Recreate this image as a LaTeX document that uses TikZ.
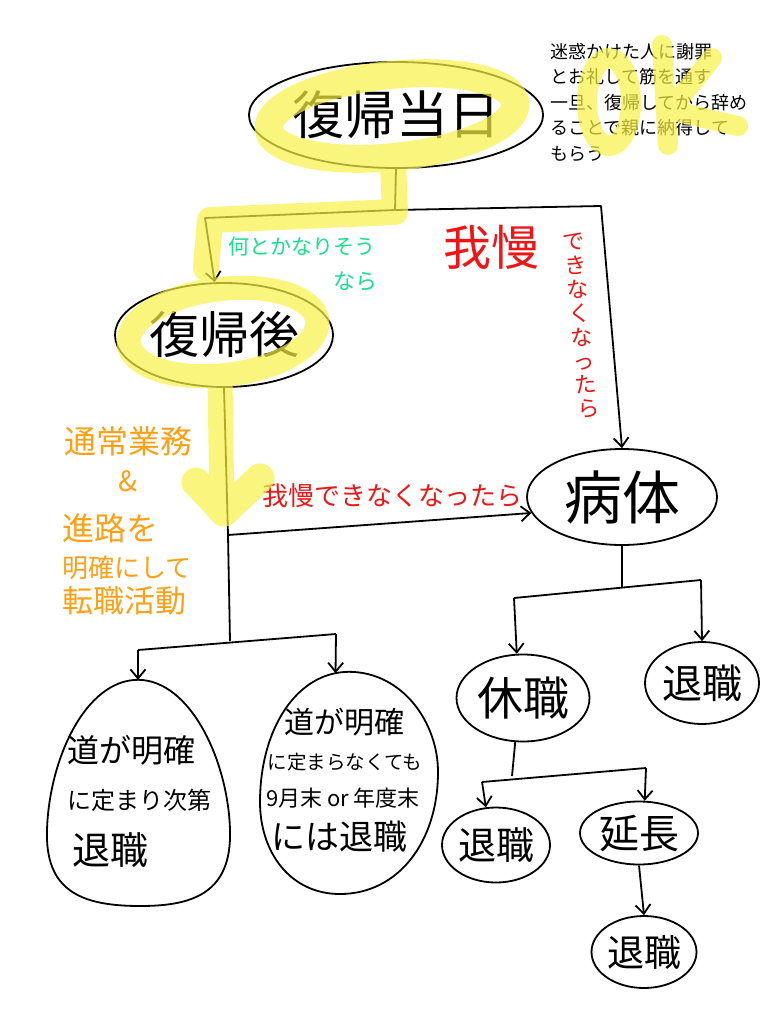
\documentclass[tikz,border=0pt]{standalone}
\usepackage{fontspec}
\setmainfont{Noto Sans CJK JP}
\usetikzlibrary{shapes.geometric,arrows.meta}
\definecolor{hlc}{RGB}{248,242,70}
\definecolor{grn}{RGB}{20,225,140}
\definecolor{rd}{RGB}{240,20,20}
\definecolor{org}{RGB}{255,160,20}
\newcommand\fsz[2]{\fontsize{#1}{#2}\selectfont}
\begin{document}
\begin{tikzpicture}[x=1pt,y=-1pt,
  bub/.style={draw, ellipse, line width=1.8pt, inner sep=0pt},
  seg/.style={line width=1.8pt, line join=round},
  conn/.style={seg, -{Straight Barb[length=9pt,width=15pt]}},
  hl/.style={draw=hlc, line cap=round, line join=round},
  lbl/.style={inner sep=0pt}]
\useasboundingbox[fill=white] (0,0) rectangle (768,1024);

% main nodes
\node[bub, minimum width=282pt, minimum height=106pt, font=\fsz{52}{52}] (d0) at (396,115) {復帰当日};
\node[bub, minimum width=218pt, minimum height=104pt, font=\fsz{50}{50}] (d1) at (224,335) {復帰後};
\node[bub, minimum width=190pt, minimum height=96pt, font=\fsz{58}{58}] (b) at (622,497) {病体};
\node[bub, minimum width=133pt, minimum height=87pt, font=\fsz{46}{46}] (k) at (523,698) {休職};
\node[bub, minimum width=114pt, minimum height=82pt, font=\fsz{40}{40}] (t1) at (702,683) {退職};
\node[bub, minimum width=108pt, minimum height=75pt, font=\fsz{38}{38}] (t2) at (496,845) {退職};
\node[bub, minimum width=118pt, minimum height=63pt, font=\fsz{40}{40}] (ex) at (639,833) {延長};
\node[bub, minimum width=105pt, minimum height=72pt, font=\fsz{37}{37}] (t3) at (644,952) {退職};
\node[ellipse, inner sep=0pt, minimum width=184pt, minimum height=226pt] (e1) at (138,793) {};
\node[ellipse, inner sep=0pt, minimum width=178pt, minimum height=222pt] (e2) at (349,783) {};
% egg outlines
\draw[seg] (e1.north) .. controls (190,680) and (228,760) .. (230,830)
  .. controls (232,895) and (190,906) .. (140,906)
  .. controls (80,906) and (45,890) .. (47,830)
  .. controls (49,760) and (85,680) .. (e1.north);
\draw[seg] (e2.north) .. controls (402,672) and (438,722) .. (438,772)
  .. controls (438,842) and (398,894) .. (340,894)
  .. controls (290,894) and (260,852) .. (260,802)
  .. controls (260,730) and (296,672) .. (e2.north);

% egg texts
\node[lbl, anchor=west, font=\fsz{32}{32}] (e1a) at (67,750) {道が明確};
\node[lbl, anchor=west, font=\fsz{24}{24}] (e1b) at (67,800) {に定まり次第};
\node[lbl, anchor=west, font=\fsz{38}{38}] (e1c) at (72,850) {退職};
\node[lbl, font=\fsz{30}{30}] (e2a) at (344,722) {道が明確};
\node[lbl, font=\fsz{19.5}{20}] (e2b) at (345,762) {に定まらなくても};
\node[lbl, font=\fsz{22}{22}] (e2c) at (343,798) {9月末 or 年度末};
\node[lbl, font=\fsz{34}{34}] (e2d) at (339,837) {には退職};

% junctions
\coordinate (j0) at (395,210);
\coordinate (jL) at (205,218);
\coordinate (jR) at (601,206);
\coordinate (j1) at (228,535);
\coordinate (j2) at (230,641);
\coordinate (l2) at (138,650);
\coordinate (r2) at (336,634);
\coordinate (j3) at (622,588);
\coordinate (l3) at (514,598);
\coordinate (r3) at (701,580);
\coordinate (j4) at (512,776);
\coordinate (l4) at (482,782);
\coordinate (r4) at (646,768);

% connectors
\draw[seg] (d0.south) -- (j0);
\draw[conn] (j0) -- (jL) -- (d1.100);
\draw[conn] (j0) -- (jR) -- (b.north);
\draw[seg] (d1.south) -- (j1) -- (j2);
\draw[conn] (j1) -- (b.190);
\draw[seg] (l2) -- (r2);
\draw[conn] (l2) -- (e1.north);
\draw[conn] (r2) -- (e2.97);
\draw[seg] (b.south) -- (j3);
\draw[seg] (l3) -- (r3);
\draw[conn] (l3) -- (k.98);
\draw[conn] (r3) -- (t1.north);
\draw[seg] (k.260) -- (j4);
\draw[seg] (l4) -- (r4);
\draw[conn] (l4) -- (t2.105);
\draw[conn] (r4) -- (ex.80);
\draw[conn] (ex.south) -- (t3.north);

% coloured labels
\node[lbl, text=grn, font=\fsz{21}{21}] (g1) at (302,247) {何とかなりそう};
\node[lbl, text=grn, font=\fsz{22}{22}] (g2) at (355,281) {なら};
\node[lbl, text=rd, font=\fsz{48}{48}] (r1a) at (491,247) {我慢};
\node[lbl, text=rd, align=center, rotate=5, font=\fsz{22}{24}] (r1b) at (581,326) {で\\き\\な\\く\\な\\っ\\た\\ら};
\node[lbl, text=rd, font=\fsz{26}{26}] (r2a) at (392,496) {我慢できなくなったら};
\node[lbl, text=org, font=\fsz{32}{32}] (o1) at (128,441) {通常業務};
\node[lbl, text=org, font=\fsz{28}{28}] (o2) at (128,481) {\&};
\node[lbl, text=org, anchor=west, font=\fsz{32}{32}] (o3) at (62,528) {進路を};
\node[lbl, text=org, anchor=west, font=\fsz{26}{26}] (o4) at (62,568) {明確にして};
\node[lbl, text=org, anchor=west, font=\fsz{31}{31}] (o5) at (62,601) {転職活動};

% note
\node[lbl, anchor=north west, align=left, font=\fsz{18}{25.5}] (note) at (550,43) {迷惑かけた人に謝罪\\とお礼して筋を通す\\一旦、復帰してから辞め\\ることで親に納得して\\もらう};

% highlighter
\begin{scope}[transparency group, opacity=0.7]
\draw[hl, line width=28pt, rotate around={6:(392,116)}] (392,116) ellipse [x radius=124pt, y radius=41pt];
\draw[hl, line width=24pt, rotate around={7:(223,332)}] (223,332) ellipse [x radius=95pt, y radius=43pt];
\draw[hl, line width=26pt] (393,165) -- (395,212) -- (210,220) -- (206,268);
\draw[hl, line width=25pt] (220,378) -- (222,512);
\draw[hl, line width=29pt] (196,482) -- (224,512) -- (260,478);
\draw[hl, line width=20pt] (609,102) ellipse [x radius=22pt, y radius=44pt];
\draw[hl, line width=20pt] (662,45) -- (668,145);
\draw[hl, line width=20pt] (712,58) -- (670,110) -- (738,126);
\end{scope}
\end{tikzpicture}
\end{document}
